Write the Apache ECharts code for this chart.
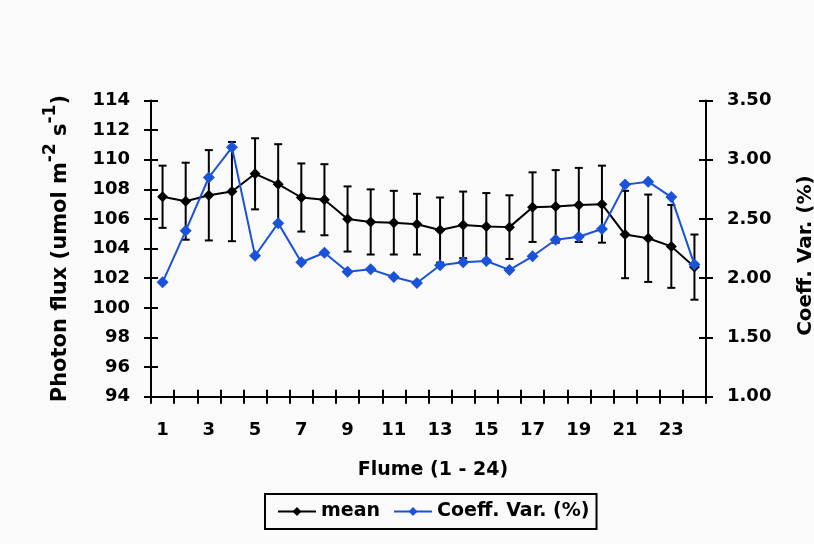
<!DOCTYPE html>
<html>
<head>
<meta charset="utf-8">
<script src="https://cdn.jsdelivr.net/npm/echarts@6/dist/echarts.min.js"></script>
<style>
  html, body { margin: 0; padding: 0; background: #fafafa; }
  #chart { width: 814px; height: 544px; }
</style>
</head>
<body>
<div id="chart"></div>
<script>
// Flume numbers along the bottom axis
const flumes = ['1','2','3','4','5','6','7','8','9','10','11','12',
                '13','14','15','16','17','18','19','20','21','22','23','24'];

// Mean photon flux per flume (umol m-2 s-1)
const meanFlux = [107.5, 107.2, 107.6, 107.85, 109.05, 108.35, 107.45, 107.3,
                  106.0, 105.8, 105.75, 105.65, 105.25, 105.6, 105.5, 105.45,
                  106.8, 106.85, 106.95, 107.0, 104.95, 104.7, 104.15, 102.75];

// Error bar half-widths for the mean
const fluxError = [2.1, 2.6, 3.05, 3.35, 2.4, 2.7, 2.3, 2.4,
                   2.2, 2.2, 2.15, 2.05, 2.2, 2.25, 2.25, 2.15,
                   2.35, 2.45, 2.5, 2.6, 2.95, 2.95, 2.8, 2.2];

// Coefficient of variation per flume (%)
const coeffVar = [1.965, 2.40, 2.85, 3.105, 2.19, 2.465, 2.135, 2.215,
                  2.055, 2.075, 2.01, 1.96, 2.11, 2.135, 2.145, 2.07,
                  2.185, 2.325, 2.35, 2.415, 2.79, 2.815, 2.685, 2.115];

const FONT = '"DejaVu Sans", Verdana, sans-serif';
const BLUE = '#1a52d8';

const errorData = meanFlux.map((m, i) => [i, m - fluxError[i], m + fluxError[i]]);

// Vertical whisker with short caps at both ends
function renderErrorBar(params, api) {
  const idx = api.value(0);
  const lo = api.coord([idx, api.value(1)]);
  const hi = api.coord([idx, api.value(2)]);
  const cap = 4;
  const style = { stroke: '#000', lineWidth: 2 };
  return {
    type: 'group',
    children: [
      { type: 'line', shape: { x1: lo[0], y1: lo[1], x2: hi[0], y2: hi[1] }, style },
      { type: 'line', shape: { x1: lo[0] - cap, y1: lo[1], x2: lo[0] + cap, y2: lo[1] }, style },
      { type: 'line', shape: { x1: hi[0] - cap, y1: hi[1], x2: hi[0] + cap, y2: hi[1] }, style }
    ]
  };
}

const axisLine = { show: true, onZero: false, lineStyle: { color: '#000', width: 2 } };
const tickStyle = { color: '#000', width: 2 };
const labelStyle = { color: '#000', fontSize: 18, fontWeight: 'bold', fontFamily: FONT };
const titleStyle = { color: '#000', fontSize: 20, fontWeight: 'bold', fontFamily: FONT };

const chart = echarts.init(document.getElementById('chart'), null, { renderer: 'canvas' });
chart.setOption({
  backgroundColor: '#fafafa',
  animation: false,
  grid: { left: 151, right: 108, top: 100.5, bottom: 147.3, containLabel: false, outerBoundsMode: 'none' },
  legend: {
    data: ['mean', 'Coeff. Var. (%)'],
    left: 265,
    top: 494,
    padding: [8, 7, 8, 12],
    borderColor: '#000',
    borderWidth: 2,
    itemWidth: 38,
    itemHeight: 11,
    itemGap: 13,
    textStyle: { color: '#000', fontSize: 19, fontWeight: 'bold', fontFamily: FONT }
  },
  xAxis: [
    {
      type: 'category',
      data: flumes,
      position: 'bottom',
      axisLine: axisLine,
      axisTick: { show: true, inside: false, length: 7, interval: 0, lineStyle: tickStyle },
      axisLabel: Object.assign({ interval: 1, margin: 25 }, labelStyle),
      splitLine: { show: false },
      name: 'Flume (1 - 24)',
      nameLocation: 'middle',
      nameGap: 64,
      nameTextStyle: { color: '#000', fontSize: 19, fontWeight: 'bold', fontFamily: FONT, padding: [0, 0, 0, 9] }
    },
    {
      type: 'category',
      data: flumes,
      position: 'bottom',
      axisLine: { show: false },
      axisTick: { show: true, inside: true, length: 7, interval: 0, lineStyle: tickStyle },
      axisLabel: { show: false },
      splitLine: { show: false }
    }
  ],
  yAxis: [
    {
      type: 'value',
      position: 'left',
      min: 94, max: 114, interval: 2,
      axisLine: axisLine,
      axisTick: { show: true, inside: false, length: 7, lineStyle: tickStyle },
      axisLabel: Object.assign({ margin: 21 }, labelStyle),
      splitLine: { show: false },
      name: '{b|Photon flux (umol m}{s|-2}{b| s}{s|-1}{b|)}',
      nameLocation: 'middle',
      nameRotate: 90,
      nameGap: 80,
      nameTextStyle: {
        rich: {
          b: Object.assign({}, titleStyle, { fontSize: 21, lineHeight: 29, verticalAlign: 'bottom' }),
          s: Object.assign({}, titleStyle, { fontSize: 17, lineHeight: 29, verticalAlign: 'top' })
        }
      }
    },
    {
      type: 'value',
      position: 'right',
      min: 1, max: 3.5, interval: 0.5,
      axisLine: axisLine,
      axisTick: { show: true, inside: false, length: 7, lineStyle: tickStyle },
      axisLabel: Object.assign({ margin: 21, formatter: v => v.toFixed(2) }, labelStyle),
      splitLine: { show: false },
      name: 'Coeff. Var. (%)',
      nameLocation: 'middle',
      nameRotate: 90,
      nameGap: 90,
      nameTextStyle: Object.assign({ padding: [0, 14, 0, 0] }, titleStyle)
    },
    {
      type: 'value',
      position: 'left',
      min: 94, max: 114, interval: 2,
      axisLine: { show: false },
      axisTick: { show: true, inside: true, length: 7, lineStyle: tickStyle },
      axisLabel: { show: false },
      splitLine: { show: false }
    },
    {
      type: 'value',
      position: 'right',
      min: 1, max: 3.5, interval: 0.5,
      axisLine: { show: false },
      axisTick: { show: true, inside: true, length: 7, lineStyle: tickStyle },
      axisLabel: { show: false },
      splitLine: { show: false }
    }
  ],
  series: [
    {
      name: 'error',
      type: 'custom',
      xAxisIndex: 0,
      yAxisIndex: 0,
      renderItem: renderErrorBar,
      encode: { x: 0, y: [1, 2] },
      data: errorData,
      z: 2,
      silent: true
    },
    {
      name: 'mean',
      type: 'line',
      xAxisIndex: 0,
      yAxisIndex: 0,
      data: meanFlux,
      symbol: 'diamond',
      symbolSize: 11,
      itemStyle: { color: '#000' },
      lineStyle: { color: '#000', width: 2 },
      z: 3
    },
    {
      name: 'Coeff. Var. (%)',
      type: 'line',
      xAxisIndex: 0,
      yAxisIndex: 1,
      data: coeffVar,
      symbol: 'diamond',
      symbolSize: 12,
      itemStyle: { color: BLUE },
      lineStyle: { color: BLUE, width: 2 },
      z: 4
    }
  ]
});
</script>
</body>
</html>
